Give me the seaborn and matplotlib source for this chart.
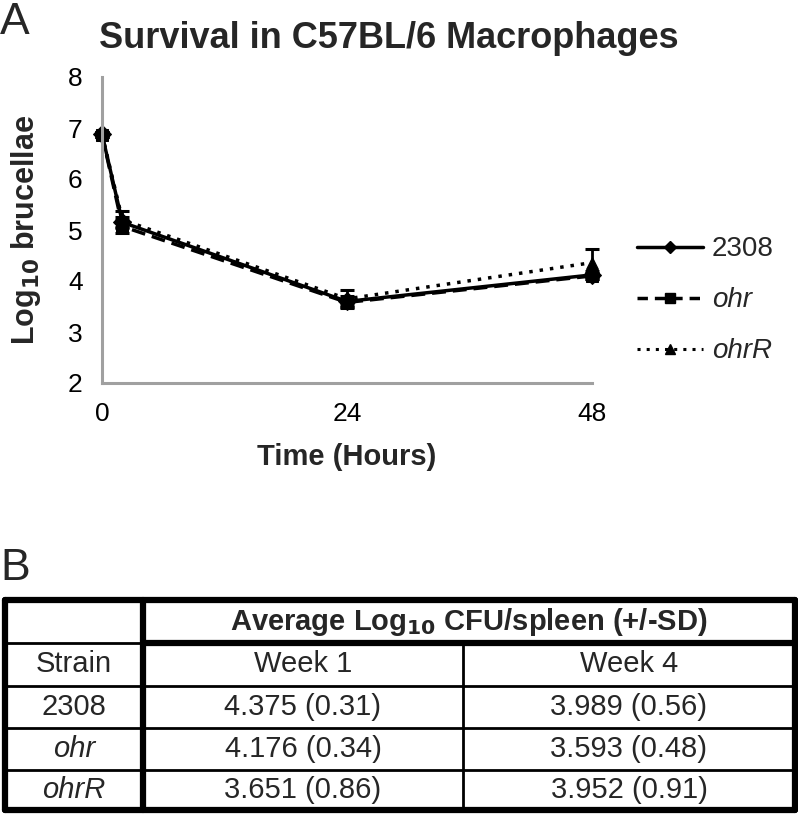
import numpy as np
import pandas as pd
import seaborn as sns
import matplotlib.pyplot as plt
from matplotlib.lines import Line2D

sns.set_style("white")
plt.rcParams['font.family'] = ['Liberation Sans', 'DejaVu Sans']

# ---- data panel A ----
hours = [0, 2, 24, 48]
strains = ['2308', 'ohr', 'ohrR']
log_2308 = [6.88, 5.15, 3.60, 4.12]
log_ohr = [6.87, 5.07, 3.58, 4.10]
log_ohrR = [6.88, 5.20, 3.65, 4.36]
sd_2308 = [0.05, 0.10, 0.10, 0.08]
sd_ohr = [0.05, 0.12, 0.06, 0.06]
sd_ohrR = [0.05, 0.17, 0.18, 0.27]

# ---- data panel B ----
table_strains = ['2308', 'ohr', 'ohrR']
week1 = ['4.375 (0.31)', '4.176 (0.34)', '3.651 (0.86)']
week4 = ['3.989 (0.56)', '3.593 (0.48)', '3.952 (0.91)']

df = pd.DataFrame({
    'Hours': hours * 3,
    'Log': log_2308 + log_ohr + log_ohrR,
    'SD': sd_2308 + sd_ohr + sd_ohrR,
    'Strain': [s for s in strains for _ in hours],
})

W, H = 798, 817
fig = plt.figure(figsize=(W / 100, H / 100), dpi=100)

# plot area in pixels: x 102..592, y 77..383
ax = fig.add_axes([102 / W, 1 - 383 / H, 490 / W, 306 / H])
sns.lineplot(data=df, x='Hours', y='Log', hue='Strain', style='Strain',
             palette=['black'] * 3, markers={'2308': 'D', 'ohr': 's', 'ohrR': '^'},
             dashes={'2308': '', 'ohr': (4, 2), 'ohrR': (1, 2)},
             markersize=9, linewidth=2.5, ax=ax, legend=False, clip_on=False,
             markeredgecolor='black')
for s in strains:
    sub = df[df['Strain'] == s]
    ax.errorbar(sub['Hours'], sub['Log'], yerr=sub['SD'], fmt='none',
                ecolor='black', elinewidth=2, capsize=5, capthick=2.2, clip_on=False)

ax.set_xlim(0, 48)
ax.set_ylim(2, 8)
ax.set_xticks([0, 24, 48])
ax.set_yticks(range(2, 9))
for side in ['top', 'right']:
    ax.spines[side].set_visible(False)
for side in ['left', 'bottom']:
    ax.spines[side].set_color('#a0a0a0')
    ax.spines[side].set_linewidth(2.2)
ax.tick_params(axis='both', colors='#a0a0a0', width=2, length=7, direction='out',
               labelsize=19, labelcolor='black', pad=7)
ax.set_xlabel('Time (Hours)', fontsize=21, fontweight='bold', labelpad=12)
ax.set_ylabel('Log$_{\\mathbf{10}}$ brucellae', fontsize=22, fontweight='bold', labelpad=18)

# legend
handles = [
    Line2D([], [], color='black', lw=2.5, marker='D', markersize=6),
    Line2D([], [], color='black', lw=2.5, marker='s', markersize=7, dashes=(3, 2)),
    Line2D([], [], color='black', lw=2.2, marker='^', markersize=7, dashes=(1, 2)),
]
leg = ax.legend(handles, strains, loc='center left', bbox_to_anchor=(1.04, 0.27),
                frameon=False, fontsize=20, handlelength=2.4, labelspacing=0.9,
                handletextpad=0.3)
for t in leg.get_texts()[1:]:
    t.set_style('italic')

fig.text(389 / W, 1 - 38 / H, 'Survival in C57BL/6 Macrophages', ha='center', va='center',
         fontsize=26, fontweight='bold')
fig.text(0 / W, 1 - 22 / H, 'A', ha='left', va='center', fontsize=32)
fig.text(0 / W, 1 - 568 / H, 'B', ha='left', va='center', fontsize=32)

# ---- table panel B ----
tx = fig.add_axes([0, 0, 1, 1])
tx.set_xlim(0, W)
tx.set_ylim(H, 0)
tx.axis('off')
left, c1, c2, right = 5, 143, 463, 795
rows = [600, 643, 686, 728, 770, 810]
thick, thin = 4.5, 2
tx.plot([left, right], [rows[0], rows[0]], color='black', lw=thick)
tx.plot([left, right], [rows[-1], rows[-1]], color='black', lw=thick)
tx.plot([left, left], [rows[0], rows[-1]], color='black', lw=thick)
tx.plot([right, right], [rows[0], rows[-1]], color='black', lw=thick)
tx.plot([c1, c1], [rows[0], rows[-1]], color='black', lw=thick)
tx.plot([c1, right], [rows[1], rows[1]], color='black', lw=thick)
tx.plot([left, c1], [rows[1], rows[1]], color='black', lw=thin)
for r in rows[2:-1]:
    tx.plot([left, right], [r, r], color='black', lw=thin)
tx.plot([c2, c2], [rows[1], rows[-1]], color='black', lw=thin)

fs = 21
tx.text((c1 + right) / 2, (rows[0] + rows[1]) / 2 + 1,
        'Average Log$_{\\mathbf{10}}$ CFU/spleen (+/-SD)', ha='center', va='center',
        fontsize=21, fontweight='bold')
tx.text((left + c1) / 2, (rows[1] + rows[2]) / 2, 'Strain', ha='center', va='center', fontsize=fs)
tx.text((c1 + c2) / 2, (rows[1] + rows[2]) / 2, 'Week 1', ha='center', va='center', fontsize=fs)
tx.text((c2 + right) / 2, (rows[1] + rows[2]) / 2, 'Week 4', ha='center', va='center', fontsize=fs)
for i, s in enumerate(table_strains):
    yc = (rows[i + 2] + rows[i + 3]) / 2
    tx.text((left + c1) / 2, yc, s, ha='center', va='center', fontsize=fs,
            style='normal' if i == 0 else 'italic')
    tx.text((c1 + c2) / 2, yc, week1[i], ha='center', va='center', fontsize=fs)
    tx.text((c2 + right) / 2, yc, week4[i], ha='center', va='center', fontsize=fs)

fig.savefig('out.png', dpi=100)
